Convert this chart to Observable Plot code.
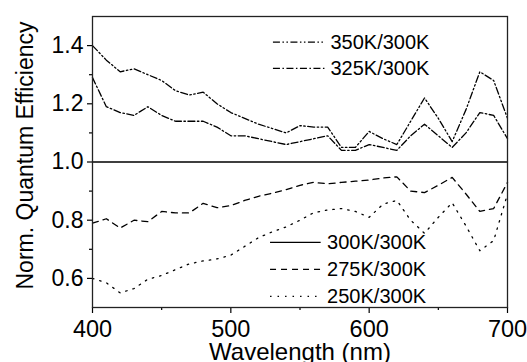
<!DOCTYPE html>
<html><head><meta charset="utf-8">
<script src="https://cdn.jsdelivr.net/npm/d3@7"></script>
<script src="https://cdn.jsdelivr.net/npm/@observablehq/plot@0.6"></script>
<style>
body{margin:0;background:#fff}
#chart svg{font-family:"Liberation Sans",Arial,sans-serif;}
</style>
</head><body><div id="chart"></div>
<script>
const wavelength = [400,410,420,430,440,450,460,470,480,490,500,510,520,530,540,550,560,570,580,590,600,610,620,630,640,650,660,670,680,690,700];
const r350 = [1.40,1.35,1.31,1.32,1.30,1.28,1.245,1.23,1.24,1.20,1.17,1.15,1.13,1.115,1.10,1.125,1.12,1.12,1.05,1.05,1.105,1.08,1.06,1.14,1.22,1.15,1.07,1.18,1.31,1.28,1.15];
const r325 = [1.29,1.19,1.17,1.16,1.19,1.16,1.14,1.14,1.14,1.12,1.09,1.09,1.08,1.07,1.06,1.07,1.08,1.09,1.04,1.04,1.06,1.05,1.04,1.09,1.13,1.09,1.05,1.10,1.17,1.16,1.08];
const r300 = [1,1,1,1,1,1,1,1,1,1,1,1,1,1,1,1,1,1,1,1,1,1,1,1,1,1,1,1,1,1,1];
const r275 = [0.79,0.805,0.773,0.80,0.795,0.83,0.825,0.825,0.858,0.843,0.85,0.868,0.882,0.893,0.905,0.92,0.93,0.925,0.93,0.934,0.938,0.945,0.949,0.90,0.895,0.92,0.947,0.89,0.83,0.84,0.93];
const r250 = [0.60,0.585,0.55,0.565,0.597,0.61,0.63,0.65,0.66,0.667,0.68,0.71,0.74,0.76,0.777,0.80,0.826,0.835,0.84,0.83,0.81,0.855,0.868,0.80,0.755,0.81,0.86,0.78,0.695,0.73,0.89];
const seriesNames = ["350K/300K","325K/300K","300K/300K","275K/300K","250K/300K"];
const xTicks = [400,500,600,700];
const xMinor = [450,550,650];
const yTicks = [0.6,0.8,1.0,1.2,1.4];
const yMinor = [0.7,0.9,1.1,1.3];
const xTitle = "Wavelength (nm)";
const yTitle = "Norm. Quantum Efficiency";

const seriesValues = [r350, r325, r300, r275, r250];
const dashes = ["7,2.5,1.5,2.5,1.5,2.5", "7,2.5,1.5,2.5", null, "6,5", "1.5,6"];
const series = seriesNames.map((name, i) => ({
  name, dash: dashes[i],
  rows: wavelength.map((w, j) => ({x: w, y: seriesValues[i][j]}))
}));

// legend placement (in data space)
const legTop = {x1: 530.8, x2: 568.4, xt: 572, ys: [1.412, 1.322]};
const legBot = {x1: 528.7, x2: 565.3, xt: 569.6, ys: [0.724, 0.631, 0.538]};
const legendMarks = [];
series.forEach((s, i) => {
  const L = i < 2 ? legTop : legBot;
  const y = L.ys[i < 2 ? i : i - 2];
  legendMarks.push(Plot.ruleY([y], {x1: L.x1, x2: L.x2, stroke: "black", strokeWidth: 1.3, strokeDasharray: s.dash}));
  legendMarks.push(Plot.text([s.name], {x: L.xt, y: y, text: d => d, textAnchor: "start", fontSize: 20, fill: "black"}));
});

const chart = Plot.plot({
  width: 527, height: 362,
  marginLeft: 92, marginRight: 20, marginTop: 16, marginBottom: 55,
  style: {fontSize: "23px", color: "black", background: "white", fontFamily: "Liberation Sans, Arial, sans-serif"},
  x: {domain: [400, 700]},
  y: {domain: [0.5, 1.5]},
  marks: [
    Plot.axisX(xMinor, {tickSize: 3, text: null, label: null, strokeWidth: 1.2}),
    Plot.axisY(yMinor, {tickSize: 3, text: null, label: null, strokeWidth: 1.2}),
    Plot.axisX(xTicks, {tickSize: 6, tickPadding: 6.5, strokeWidth: 1.2, fontSize: 23.5, label: null}),
    Plot.axisY(yTicks, {tickSize: 5, tickPadding: 4, strokeWidth: 1.2, fontSize: 23, tickFormat: d3.format(".1f"), label: null}),
    Plot.text([xTitle], {frameAnchor: "bottom", dy: 44.5, fontSize: 24, lineAnchor: "middle", text: d => d, fill: "black"}),
    Plot.text([yTitle], {frameAnchor: "left", dx: -67, dy: -6.5, rotate: -90, fontSize: 23, textAnchor: "middle", lineAnchor: "middle", text: d => d, fill: "black"}),
    ...series.map(s => Plot.line(s.rows, {x: "x", y: "y", stroke: "black", strokeWidth: 1.3, strokeDasharray: s.dash})),
    ...legendMarks,
    Plot.frame({stroke: "#222", strokeWidth: 1.3})
  ]
});
document.getElementById("chart").appendChild(chart);
</script>
</body></html>
